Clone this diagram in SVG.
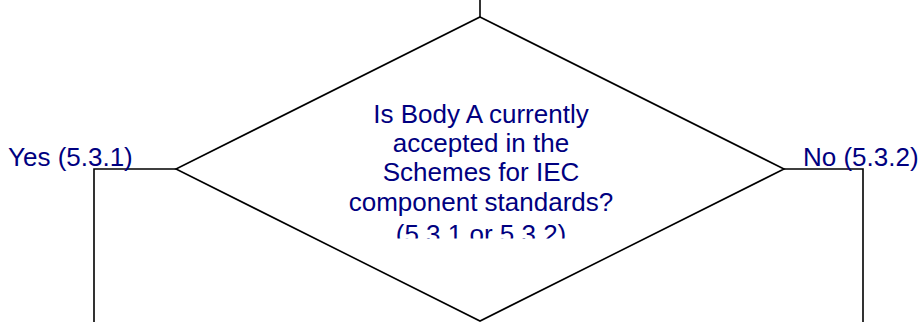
<svg xmlns="http://www.w3.org/2000/svg" width="920" height="322" viewBox="0 0 920 322">
<style>
.ln{fill:none;stroke:#000;stroke-width:1.6}
.t{font-family:"Liberation Sans",Arial,sans-serif;font-size:26px;fill:#000080}
</style>
<defs><clipPath id="c"><rect x="0" y="0" width="920" height="238.5"/></clipPath></defs>
<rect width="920" height="322" fill="#fff"/>
<g id="connectors">
<path class="ln" d="M480,0V17"/>
<path class="ln" d="M176,169H94V322"/>
<path class="ln" d="M784,169H863V322"/>
<text class="t" x="8" y="165.5">Yes (5.3.1)</text>
<text class="t" x="803" y="165.5">No (5.3.2)</text>
</g>
<g id="decision">
<polygon class="ln" points="480,17 784,169 480,321 176,169"/>
<g clip-path="url(#c)" text-anchor="middle">
<text class="t" x="481" y="123">Is Body A currently</text>
<text class="t" x="481" y="152">accepted in the</text>
<text class="t" x="481" y="181">Schemes for IEC</text>
<text class="t" x="481" y="210.5">component standards?</text>
<text class="t" x="481" y="243">(5.3.1 or 5.3.2)</text>
</g>
</g>
</svg>
